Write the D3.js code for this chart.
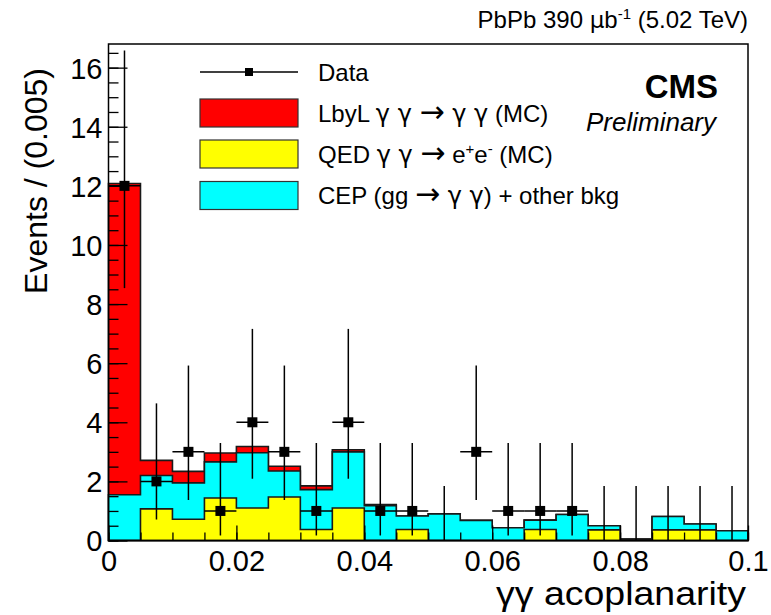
<!DOCTYPE html>
<head><style>body { margin: 0; background: #fff; } svg { display: block; }</style></head>
<body>
<div class="container"></div>
<script src="https://d3js.org/d3.v7.min.js"></script>
<script>
// bin lower edges, width 0.005
var binWidth = 0.005;
var binLow = [0, 0.005, 0.01, 0.015, 0.02, 0.025, 0.03, 0.035, 0.04, 0.045,
              0.05, 0.055, 0.06, 0.065, 0.07, 0.075, 0.08, 0.085, 0.09, 0.095];

// MC contributions per bin (stacked: QED bottom, CEP middle, LbyL top)
var qed  = [0, 1.07, 0.72, 1.44, 1.1, 1.47, 0.37, 1.1, 0, 0.37,
            0, 0, 0, 0.37, 0, 0.36, 0, 0.36, 0.36, 0];
var cep  = [1.55, 1.13, 1.23, 1.22, 1.87, 0.88, 1.35, 1.9, 1.18, 0.46,
            0.9, 0.68, 0.43, 0.32, 0.88, 0.14, 0.05, 0.45, 0.2, 0.33];
var lbyl = [10.53, 0.51, 0.39, 0.3, 0.21, 0.16, 0.13, 0.07, 0.04, 0,
            0, 0, 0, 0, 0, 0, 0, 0, 0, 0];

// data with asymmetric (Poisson) errors
var dataY  = [12, 2, 3, 1, 4, 3, 1, 4, 1, 1, 0, 3, 1, 1, 1, 0, 0, 0, 0, 0];
var errLo  = [3.46, 1.29, 1.63, 0.83, 1.91, 1.63, 0.83, 1.91, 0.83, 0.83,
              0, 1.63, 0.83, 0.83, 0.83, 0, 0, 0, 0, 0];
var errHi  = [4.58, 2.64, 2.92, 2.3, 3.16, 2.92, 2.3, 3.16, 2.3, 2.3,
              1.84, 2.92, 2.3, 2.3, 2.3, 1.84, 1.84, 1.84, 1.84, 1.84];

var xMajor = [0, 0.02, 0.04, 0.06, 0.08, 0.1];
var xMajorLabels = ['0', '0.02', '0.04', '0.06', '0.08', '0.1'];
var yMajor = [0, 2, 4, 6, 8, 10, 12, 14, 16];

var legendLabels = ['Data', 'LbyL', 'QED', 'CEP'];

var W = 771, H = 615;
var svg = d3.select('.container').append('svg')
            .attr('width', W).attr('height', H)
            .style('font-family', 'Liberation Sans, Arial, Helvetica, sans-serif');

var x = d3.scaleLinear().domain([0, 0.1]).range([108.5, 748]);
var y = d3.scaleLinear().domain([0, 16.8]).range([540.5, 44]);

// cumulative histograms, drawn from the largest down
var cumYellow = qed.slice();
var cumCyan = qed.map(function(v, i) { return v + cep[i]; });
var cumRed = cumCyan.map(function(v, i) { return v + lbyl[i]; });

function stepPts(vals) {
    var pts = vals.map(function(v, i) { return [binLow[i], v]; });
    pts.push([binLow[binLow.length - 1] + binWidth, vals[vals.length - 1]]);
    return pts;
}
var area = d3.area().curve(d3.curveStepAfter)
             .x(function(d) { return x(d[0]); })
             .y0(y(0))
             .y1(function(d) { return y(d[1]); });

[[cumRed, '#ff0000'], [cumCyan, '#00ffff'], [cumYellow, '#ffff00']].forEach(function(h) {
    svg.append('path')
       .attr('d', area(stepPts(h[0])))
       .attr('fill', h[1])
       .attr('stroke', '#1a1a1a')
       .attr('stroke-width', 1.6);
});

// axes (ticks pointing inwards like ROOT)
var xMinorVals = d3.range(0, 21).map(function(i) { return i * 0.005; });
svg.append('g').attr('transform', 'translate(0,' + y(0) + ')')
   .call(d3.axisBottom(x).tickValues(xMinorVals).tickSize(-8).tickFormat(''))
   .call(function(g) { g.select('.domain').remove(); });
svg.append('g').attr('class', 'xaxis').attr('transform', 'translate(0,' + y(0) + ')')
   .call(d3.axisBottom(x).tickValues(xMajor).tickSize(-15).tickPadding(10)
           .tickFormat(function(d, i) { return xMajorLabels[i]; }))
   .call(function(g) { g.select('.domain').remove(); });

var yMinorVals = d3.range(0, 34).map(function(i) { return i * 0.5; });
svg.append('g').attr('transform', 'translate(' + x(0) + ',0)')
   .call(d3.axisLeft(y).tickValues(yMinorVals).tickSize(-10).tickFormat(''))
   .call(function(g) { g.select('.domain').remove(); });
svg.append('g').attr('class', 'yaxis').attr('transform', 'translate(' + x(0) + ',0)')
   .call(d3.axisLeft(y).tickValues(yMajor).tickSize(-19).tickPadding(6))
   .call(function(g) { g.select('.domain').remove(); });

svg.selectAll('.tick line').attr('stroke', '#000').attr('stroke-width', 1.3);
svg.selectAll('.xaxis text, .yaxis text')
   .attr('font-size', 29).attr('fill', '#000')
   .attr('font-family', 'Liberation Sans, Arial, sans-serif');
svg.selectAll('.xaxis text').attr('dy', '0.71em');
svg.selectAll('.yaxis text').attr('dy', '0.36em');

// data points
var pts = dataY.map(function(v, i) {
    return { xc: binLow[i] + binWidth / 2, v: v, lo: errLo[i], hi: errHi[i], i: i };
});
var dg = svg.append('g');
dg.selectAll('.ev').data(pts).enter().append('line')
  .attr('x1', function(d) { return x(d.xc); }).attr('x2', function(d) { return x(d.xc); })
  .attr('y1', function(d) { return y(d.v - d.lo); })
  .attr('y2', function(d) { return y(d.v + d.hi); })
  .attr('stroke', '#000').attr('stroke-width', 1.5);
var nz = pts.filter(function(d) { return d.v > 0; });
dg.selectAll('.eh').data(nz).enter().append('line')
  .attr('x1', function(d) { return x(d.xc - binWidth / 2); })
  .attr('x2', function(d) { return x(d.xc + binWidth / 2); })
  .attr('y1', function(d) { return y(d.v); }).attr('y2', function(d) { return y(d.v); })
  .attr('stroke', '#000').attr('stroke-width', 1.5);
dg.selectAll('.mk').data(nz).enter().append('rect')
  .attr('x', function(d) { return x(d.xc) - 5; })
  .attr('y', function(d) { return y(d.v) - 5; })
  .attr('width', 10).attr('height', 10).attr('fill', '#000');

// frame
svg.append('rect').attr('x', x(0)).attr('y', y(16.8))
   .attr('width', x(0.1) - x(0)).attr('height', y(0) - y(16.8))
   .attr('fill', 'none').attr('stroke', '#000').attr('stroke-width', 1.5);

// legend
var sym = 'DejaVu Sans, sans-serif';
var lg = svg.append('g').attr('font-size', 24);
var rowY = [72, 113, 154, 195.5];
lg.append('line').attr('x1', 200).attr('x2', 298).attr('y1', rowY[0]).attr('y2', rowY[0])
  .attr('stroke', '#000').attr('stroke-width', 1.3);
lg.append('rect').attr('x', 245).attr('y', rowY[0] - 4).attr('width', 8).attr('height', 8).attr('fill', '#000');
['#ff0000', '#ffff00', '#00ffff'].forEach(function(c, i) {
    lg.append('rect').attr('x', 200).attr('y', rowY[i + 1] - 14).attr('width', 98).attr('height', 28)
      .attr('fill', c).attr('stroke', '#333').attr('stroke-width', 1.2);
});
function legText(i) {
    return lg.append('text').attr('x', 318).attr('y', rowY[i] + 8.5).attr('fill', '#000');
}
function part(t, s, font) {
    var sp = t.append('tspan').text(s);
    if (font) sp.attr('font-family', sym).attr('font-size', font);
    return sp;
}
legText(0).text(legendLabels[0]);
var t1 = legText(1);
part(t1, legendLabels[1] + ' ');
part(t1, 'γ γ ', 24);
part(t1, '→', 30);
part(t1, ' γ γ', 24);
part(t1, ' (MC)');
var t2 = legText(2);
part(t2, legendLabels[2] + ' ');
part(t2, 'γ γ ', 24);
part(t2, '→', 30);
part(t2, ' e');
t2.append('tspan').attr('dy', -9).attr('font-size', 15).text('+');
t2.append('tspan').attr('dy', 9).text('e');
t2.append('tspan').attr('dy', -9).attr('font-size', 15).text('-');
t2.append('tspan').attr('dy', 9).text(' (MC)');
var t3 = legText(3);
part(t3, legendLabels[3] + ' (gg ');
part(t3, '→', 30);
part(t3, ' γ γ', 24);
part(t3, ') + other bkg');

// CMS labels
svg.append('text').attr('x', 718).attr('y', 98).attr('text-anchor', 'end')
   .attr('font-size', 33).attr('font-weight', 'bold').text('CMS');
svg.append('text').attr('x', 716).attr('y', 131).attr('text-anchor', 'end')
   .attr('font-size', 26).attr('font-style', 'italic').text('Preliminary');

// title
var tt = svg.append('text').attr('x', 748).attr('y', 28).attr('text-anchor', 'end').attr('font-size', 24);
tt.append('tspan').text('PbPb 390 ');
tt.append('tspan').attr('font-family', sym).attr('font-size', 23).text('μ');
tt.append('tspan').text('b');
tt.append('tspan').attr('dy', -9).attr('font-size', 15).text('-1');
tt.append('tspan').attr('dy', 9).text(' (5.02 TeV)');

// axis titles
svg.append('text').attr('x', 496).attr('y', 605).attr('font-size', 34)
   .attr('textLength', 250).attr('lengthAdjust', 'spacingAndGlyphs').text('γγ acoplanarity');
svg.append('text').attr('transform', 'translate(47,68) rotate(-90)').attr('text-anchor', 'end')
   .attr('font-size', 32).text('Events / (0.005)');
</script>
</body>
